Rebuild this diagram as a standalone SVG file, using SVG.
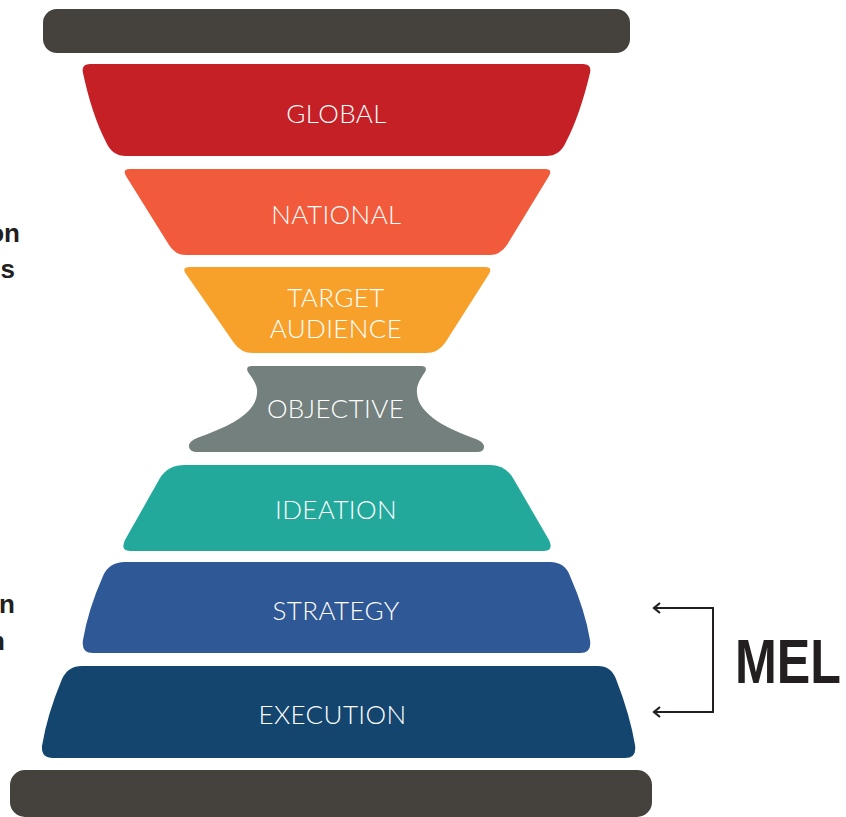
<svg xmlns="http://www.w3.org/2000/svg" width="846" height="817" viewBox="0 0 846 817">
<defs>
<style>
.lbl{font-family:Lato,"Open Sans","Liberation Sans",sans-serif;font-weight:300;font-size:26px;letter-spacing:0.4px;fill:#ffffff;text-anchor:middle}
.side{font-family:"Liberation Sans",Arial,sans-serif;font-weight:bold;font-size:26px;fill:#231f20;text-anchor:end}
.bar{fill:#45413c}
</style>
<marker id="chev" viewBox="0 0 10 12" refX="8" refY="6" markerWidth="10" markerHeight="12" markerUnits="userSpaceOnUse" orient="auto-start-reverse">
<path d="M2,1 L8,6 L2,11" fill="none" stroke="#231f20" stroke-width="2.2"/>
</marker>
</defs>
<rect width="846" height="817" fill="#ffffff"/>
<g id="top-bar"><rect class="bar" x="43" y="9" width="587" height="44" rx="14"/></g>
<g id="global">
<path fill="#c42026" d="M90,64 L583,64 Q592,64 590,73 Q580,115 566,142 Q560,156 546,156 L126,156 Q112,156 106,142 Q92,115 83,73 Q81,64 90,64 Z"/>
<text class="lbl" x="336.5" y="122.5">GLOBAL</text>
</g>
<g id="national">
<path fill="#f15a3a" d="M130,169 L545,169 Q553,169 549,176 L507,245 Q500,255 490,255 L186,255 Q175,255 169,245 L126,176 Q122,169 130,169 Z"/>
<text class="lbl" x="336.5" y="223.5">NATIONAL</text>
</g>
<g id="target-audience">
<path fill="#f7a12b" d="M190,267 L485,267 Q493,267 489,274 L445,343 Q438,353 426,353 L253,353 Q241,353 234,343 L186,274 Q181,267 190,267 Z"/>
<text class="lbl" x="336" y="306.5">TARGET</text>
<text class="lbl" x="336" y="337.5">AUDIENCE</text>
</g>
<g id="objective">
<path fill="#73807d" d="M252,366 L421,366 Q428,366 425,372 C421,378 416,385 417,393 C418,415 450,430 476,439 Q484,442 484,447 Q484,452 477,452 L197,452 Q190,452 189,447 Q188,442 197,438 C225,428 256,415 257,393 C258,385 252,378 248,372 Q245,366 252,366 Z"/>
<text class="lbl" x="335.5" y="417.5">OBJECTIVE</text>
</g>
<g id="ideation">
<path fill="#23a99c" d="M185,465 L490,465 Q505,465 513,478 L549,540 Q554,551 544,551 L130,551 Q120,551 125,540 L160,478 Q168,465 185,465 Z"/>
<text class="lbl" x="336" y="518.5">IDEATION</text>
</g>
<g id="strategy">
<path fill="#2f5896" d="M125,562 L550,562 Q565,562 570,576 Q585,610 590,640 Q592,653 580,653 L93,653 Q81,653 83,640 Q88,610 103,576 Q109,562 125,562 Z"/>
<text class="lbl" x="336" y="619.5">STRATEGY</text>
</g>
<g id="execution">
<path fill="#13456f" d="M82,666 L598,666 Q611,666 616,679 Q630,715 635,745 Q637,758 625,758 L53,758 Q41,758 42,746 Q47,715 62,679 Q68,666 82,666 Z"/>
<text class="lbl" x="332.5" y="723.5">EXECUTION</text>
</g>
<g id="bottom-bar"><rect class="bar" x="10" y="770" width="642" height="47" rx="15"/></g>
<g id="connectors">
<path d="M654,608 H713 V712 H654" fill="none" stroke="#231f20" stroke-width="2" marker-start="url(#chev)" marker-end="url(#chev)"/>
</g>
<g id="mel-label">
<text x="735" y="683" font-family="'Liberation Sans',Arial,sans-serif" font-weight="bold" font-size="63" fill="#231f20" textLength="106" lengthAdjust="spacingAndGlyphs">MEL</text>
</g>
<g id="side-labels">
<text class="side" x="20" y="242">on</text>
<text class="side" x="15" y="278">s</text>
<text class="side" x="15" y="613">n</text>
<text class="side" x="5" y="650">n</text>
</g>
</svg>
